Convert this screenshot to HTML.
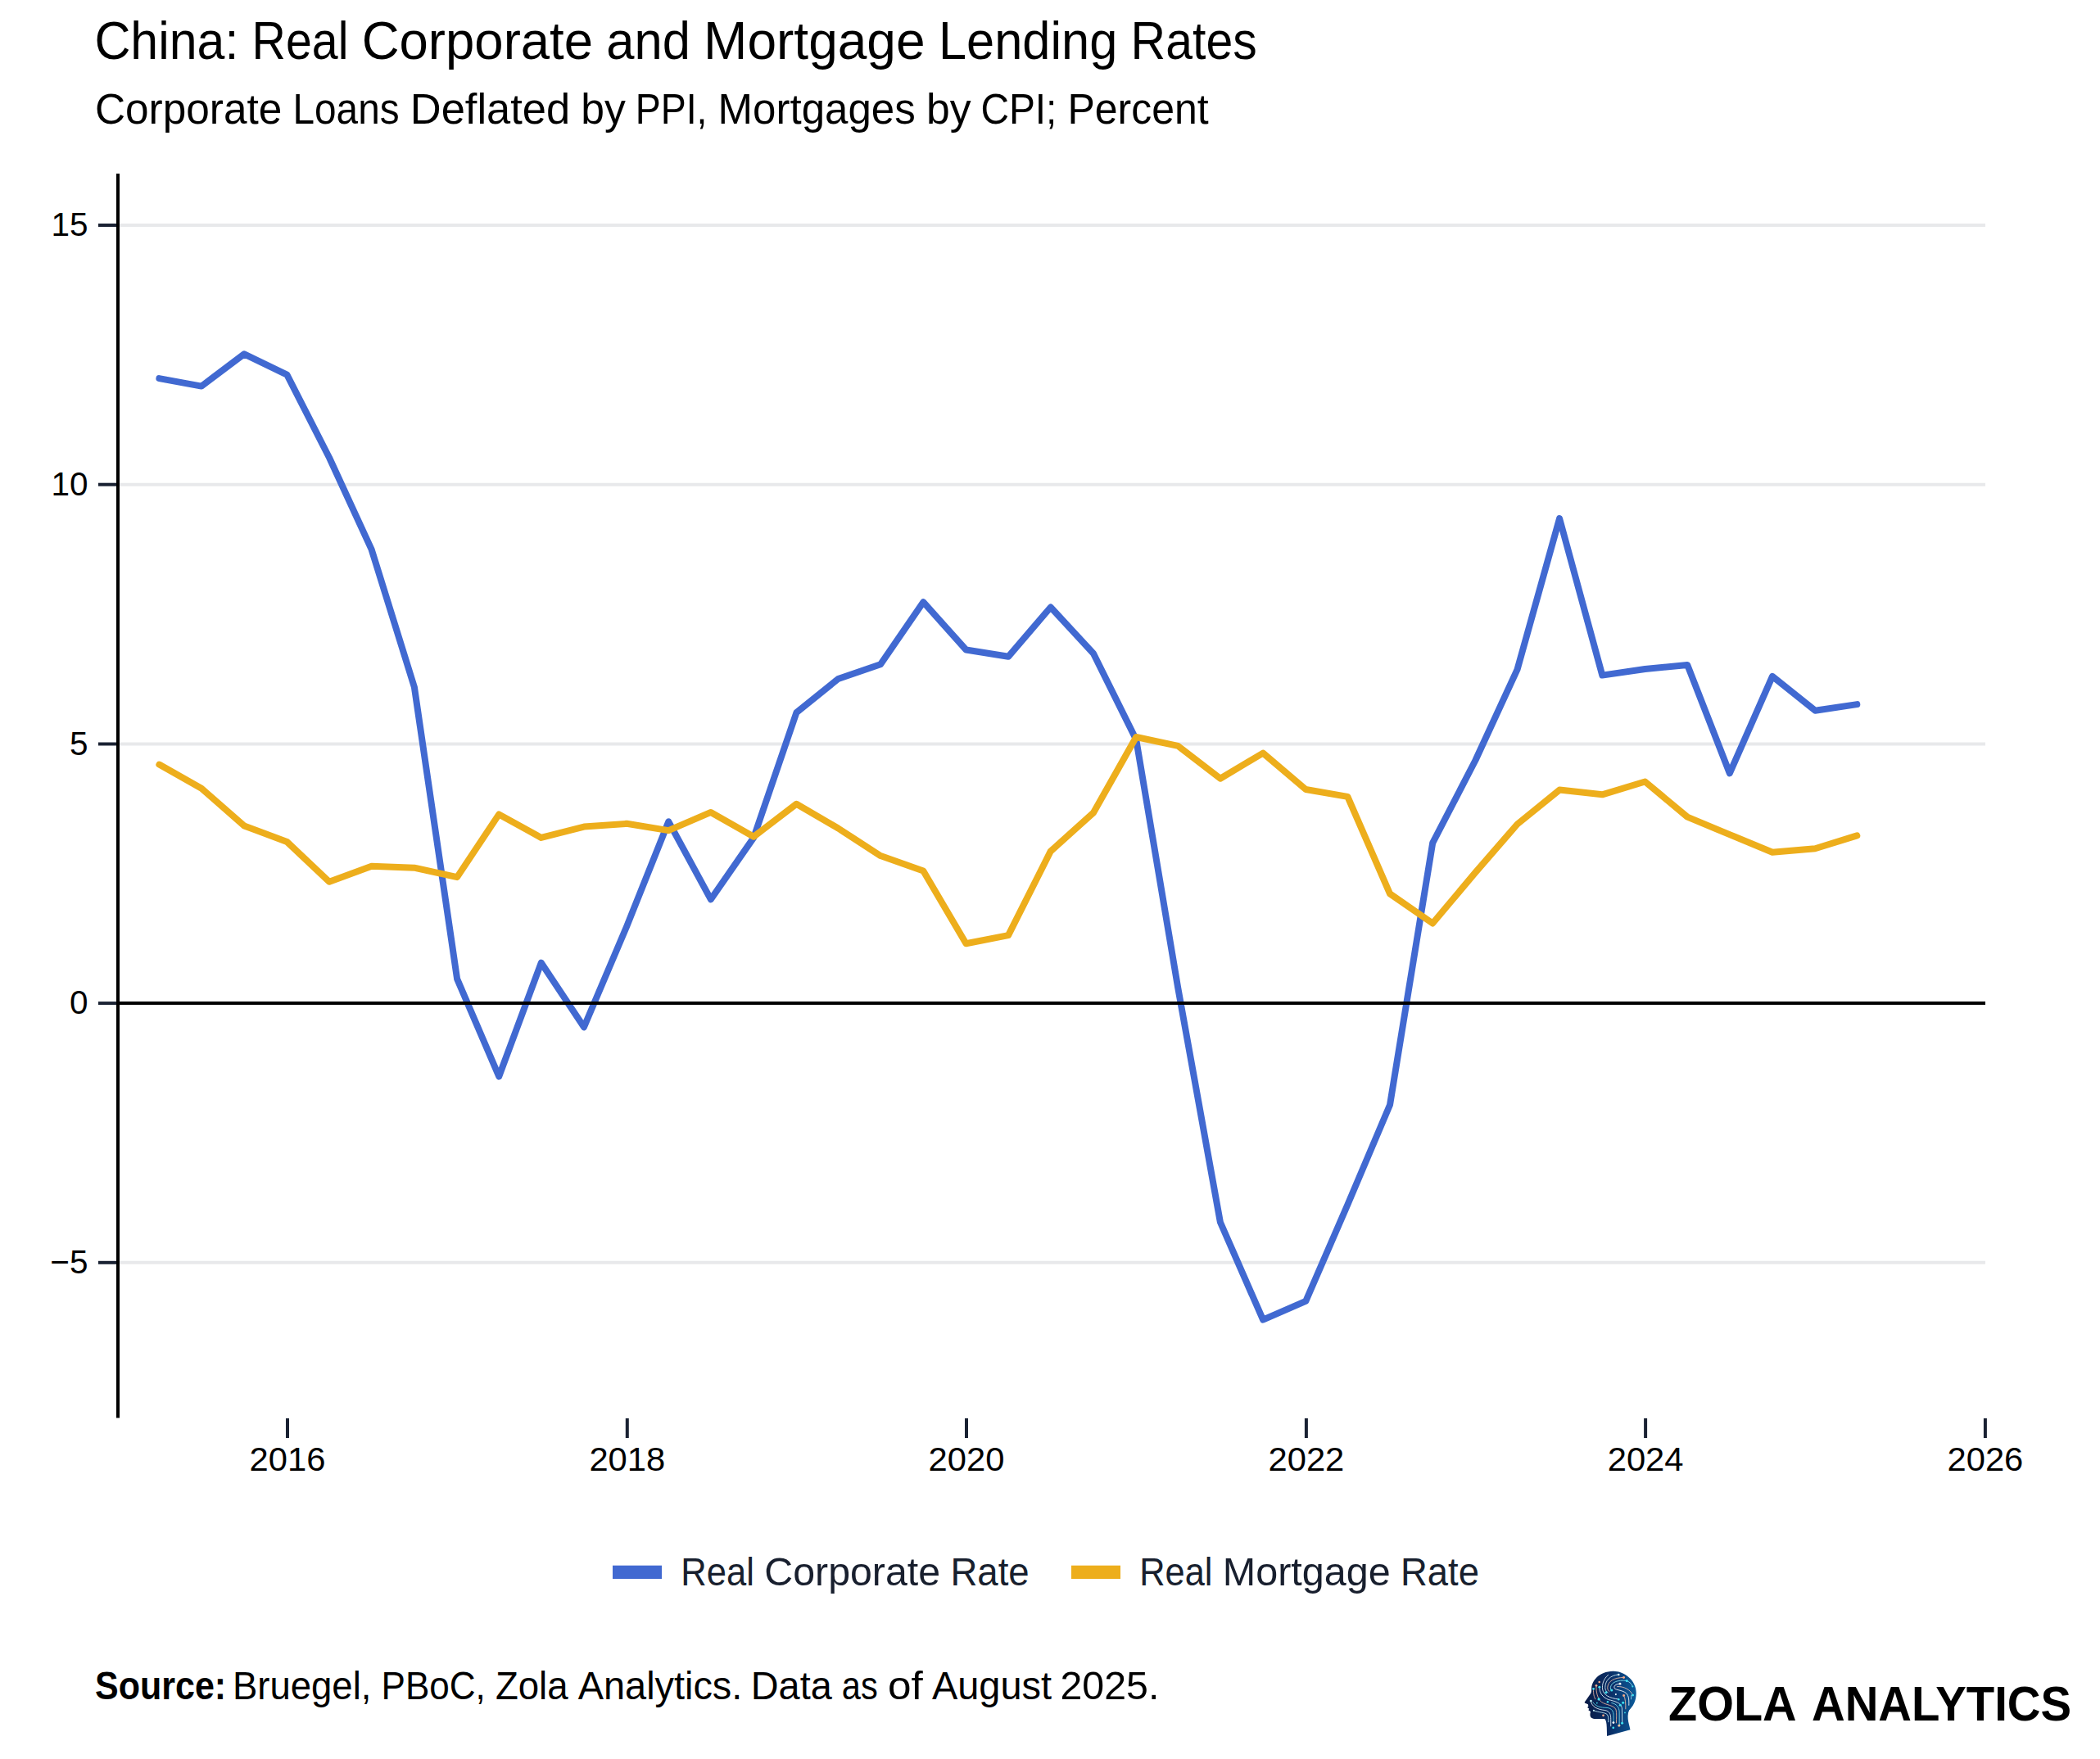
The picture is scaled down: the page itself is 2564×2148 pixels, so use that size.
<!DOCTYPE html>
<html lang="en"><head><meta charset="utf-8"><title>China: Real Corporate and Mortgage Lending Rates</title>
<style>html,body{margin:0;padding:0;background:#fff}body{width:2564px;height:2148px;overflow:hidden}svg{display:block}</style>
</head><body>
<svg width="2564" height="2148" viewBox="0 0 2564 2148" font-family="Liberation Sans, sans-serif">
<rect width="2564" height="2148" fill="#ffffff"/>
<text y="71.7" font-size="65" fill="#000" ><tspan x="115.4" textLength="176.0" lengthAdjust="spacingAndGlyphs">China:</tspan> <tspan x="307.6" textLength="117.8" lengthAdjust="spacingAndGlyphs">Real</tspan> <tspan x="441.7" textLength="282.4" lengthAdjust="spacingAndGlyphs">Corporate</tspan> <tspan x="740.3" textLength="102.6" lengthAdjust="spacingAndGlyphs">and</tspan> <tspan x="859.1" textLength="270.5" lengthAdjust="spacingAndGlyphs">Mortgage</tspan> <tspan x="1145.9" textLength="218.5" lengthAdjust="spacingAndGlyphs">Lending</tspan> <tspan x="1380.6" textLength="154.1" lengthAdjust="spacingAndGlyphs">Rates</tspan></text>
<text y="151" font-size="52.4" fill="#000" ><tspan x="115.9" textLength="228.5" lengthAdjust="spacingAndGlyphs">Corporate</tspan> <tspan x="357.5" textLength="130.1" lengthAdjust="spacingAndGlyphs">Loans</tspan> <tspan x="500.8" textLength="195.3" lengthAdjust="spacingAndGlyphs">Deflated</tspan> <tspan x="709.2" textLength="54.6" lengthAdjust="spacingAndGlyphs">by</tspan> <tspan x="775.7" textLength="87.8" lengthAdjust="spacingAndGlyphs">PPI,</tspan> <tspan x="876.6" textLength="241.1" lengthAdjust="spacingAndGlyphs">Mortgages</tspan> <tspan x="1130.9" textLength="54.6" lengthAdjust="spacingAndGlyphs">by</tspan> <tspan x="1197.4" textLength="93.0" lengthAdjust="spacingAndGlyphs">CPI;</tspan> <tspan x="1303.5" textLength="172.2" lengthAdjust="spacingAndGlyphs">Percent</tspan></text>
<line x1="146" x2="2424" y1="275.0" y2="275.0" stroke="#e8e9eb" stroke-width="4"/>
<line x1="146" x2="2424" y1="591.7" y2="591.7" stroke="#e8e9eb" stroke-width="4"/>
<line x1="146" x2="2424" y1="908.5" y2="908.5" stroke="#e8e9eb" stroke-width="4"/>
<line x1="146" x2="2424" y1="1541.8" y2="1541.8" stroke="#e8e9eb" stroke-width="4"/>
<polyline points="194.4,462.1 246.0,471.6 298.2,432.3 350.4,457.6 402.1,559.0 453.7,671.2 505.9,839.1 558.1,1195.3 609.2,1314.5 660.8,1175.7 713.0,1254.3 765.2,1131.3 816.3,1003.3 867.9,1098.3 920.2,1022.9 972.4,870.2 1023.4,829.0 1075.1,811.3 1127.3,735.2 1179.5,793.5 1231.1,801.8 1282.8,741.5 1335.0,798.0 1387.2,903.2 1438.2,1206.1 1489.9,1492.5 1542.1,1611.7 1594.3,1588.9 1645.4,1471.0 1697.0,1349.3 1749.2,1029.3 1801.4,928.5 1852.5,817.6 1904.1,633.2 1956.3,824.6 2008.5,817.0 2060.2,811.9 2111.8,944.3 2164.0,825.8 2216.2,867.7 2267.3,860.1" fill="none" stroke="#4169d1" stroke-width="8" stroke-linejoin="round" stroke-linecap="round"/>
<polyline points="194.4,933.6 246.0,962.7 298.2,1008.4 350.4,1028.0 402.1,1076.8 453.7,1057.8 505.9,1059.7 558.1,1071.1 609.2,994.4 660.8,1022.9 713.0,1009.6 765.2,1005.8 816.3,1014.1 867.9,991.9 920.2,1021.7 972.4,981.7 1023.4,1011.5 1075.1,1045.1 1127.3,1063.5 1179.5,1152.2 1231.1,1142.1 1282.8,1039.4 1335.0,992.5 1387.2,900.0 1438.2,910.8 1489.9,950.7 1542.1,919.6 1594.3,964.0 1645.4,972.9 1697.0,1091.4 1749.2,1127.5 1801.4,1065.4 1852.5,1006.5 1904.1,964.6 1956.3,970.3 2008.5,954.5 2060.2,997.6 2111.8,1019.1 2164.0,1040.7 2216.2,1036.2 2267.3,1020.4" fill="none" stroke="#edae1c" stroke-width="8" stroke-linejoin="round" stroke-linecap="round"/>
<line x1="144" x2="2424" y1="1225.1" y2="1225.1" stroke="#000" stroke-width="4"/>
<line x1="144" x2="144" y1="212" y2="1731.5" stroke="#000" stroke-width="4"/>
<line x1="120" x2="142" y1="275.0" y2="275.0" stroke="#1a2233" stroke-width="4"/>
<text x="107.5" y="288.2" text-anchor="end" font-size="40.5" fill="#000">15</text>
<line x1="120" x2="142" y1="591.7" y2="591.7" stroke="#1a2233" stroke-width="4"/>
<text x="107.5" y="604.9" text-anchor="end" font-size="40.5" fill="#000">10</text>
<line x1="120" x2="142" y1="908.5" y2="908.5" stroke="#1a2233" stroke-width="4"/>
<text x="107.5" y="921.7" text-anchor="end" font-size="40.5" fill="#000">5</text>
<line x1="120" x2="142" y1="1541.8" y2="1541.8" stroke="#1a2233" stroke-width="4"/>
<text x="107.5" y="1555.0" text-anchor="end" font-size="40.5" fill="#000">−5</text>
<line x1="120" x2="142" y1="1225.1" y2="1225.1" stroke="#1a2233" stroke-width="4"/>
<text x="107.5" y="1238.3" text-anchor="end" font-size="40.5" fill="#000">0</text>
<line x1="351.0" x2="351.0" y1="1732" y2="1756" stroke="#1a2233" stroke-width="4"/>
<text x="304.6" y="1796" font-size="40.5" textLength="92.8" lengthAdjust="spacingAndGlyphs" fill="#000">2016</text>
<line x1="765.8" x2="765.8" y1="1732" y2="1756" stroke="#1a2233" stroke-width="4"/>
<text x="719.4" y="1796" font-size="40.5" textLength="92.8" lengthAdjust="spacingAndGlyphs" fill="#000">2018</text>
<line x1="1180.0" x2="1180.0" y1="1732" y2="1756" stroke="#1a2233" stroke-width="4"/>
<text x="1133.6" y="1796" font-size="40.5" textLength="92.8" lengthAdjust="spacingAndGlyphs" fill="#000">2020</text>
<line x1="1594.9" x2="1594.9" y1="1732" y2="1756" stroke="#1a2233" stroke-width="4"/>
<text x="1548.5" y="1796" font-size="40.5" textLength="92.8" lengthAdjust="spacingAndGlyphs" fill="#000">2022</text>
<line x1="2009.1" x2="2009.1" y1="1732" y2="1756" stroke="#1a2233" stroke-width="4"/>
<text x="1962.7" y="1796" font-size="40.5" textLength="92.8" lengthAdjust="spacingAndGlyphs" fill="#000">2024</text>
<line x1="2423.9" x2="2423.9" y1="1732" y2="1756" stroke="#1a2233" stroke-width="4"/>
<text x="2377.5" y="1796" font-size="40.5" textLength="92.8" lengthAdjust="spacingAndGlyphs" fill="#000">2026</text>
<rect x="748" y="1911.7" width="60" height="16.3" fill="#4169d1"/>
<text y="1935.7" font-size="49" fill="#181f2e" ><tspan x="831.3" textLength="89.6" lengthAdjust="spacingAndGlyphs">Real</tspan> <tspan x="933.3" textLength="214.8" lengthAdjust="spacingAndGlyphs">Corporate</tspan> <tspan x="1160.4" textLength="96.3" lengthAdjust="spacingAndGlyphs">Rate</tspan></text>
<rect x="1308" y="1911.7" width="60" height="16.3" fill="#edae1c"/>
<text y="1935.7" font-size="49" fill="#181f2e" ><tspan x="1391.3" textLength="89.2" lengthAdjust="spacingAndGlyphs">Real</tspan> <tspan x="1492.8" textLength="204.9" lengthAdjust="spacingAndGlyphs">Mortgage</tspan> <tspan x="1710.0" textLength="95.9" lengthAdjust="spacingAndGlyphs">Rate</tspan></text>
<text y="2075.3" font-size="48.5" fill="#000" font-weight="bold" ><tspan x="116.1" textLength="160.1" lengthAdjust="spacingAndGlyphs">Source:</tspan></text>
<text y="2075.3" font-size="48.2" fill="#000" ><tspan x="283.9" textLength="169.5" lengthAdjust="spacingAndGlyphs">Bruegel,</tspan> <tspan x="465.5" textLength="127.3" lengthAdjust="spacingAndGlyphs">PBoC,</tspan> <tspan x="604.9" textLength="88.7" lengthAdjust="spacingAndGlyphs">Zola</tspan> <tspan x="705.8" textLength="200.5" lengthAdjust="spacingAndGlyphs">Analytics.</tspan> <tspan x="916.8" textLength="98.9" lengthAdjust="spacingAndGlyphs">Data</tspan> <tspan x="1027.8" textLength="43.9" lengthAdjust="spacingAndGlyphs">as</tspan> <tspan x="1083.9" textLength="42.8" lengthAdjust="spacingAndGlyphs">of</tspan> <tspan x="1137.9" textLength="146.1" lengthAdjust="spacingAndGlyphs">August</tspan> <tspan x="1294.5" textLength="120.8" lengthAdjust="spacingAndGlyphs">2025.</tspan></text>
<text y="2101.1" font-size="58.8" font-weight="bold" fill="#000"><tspan x="2037" textLength="154.5" lengthAdjust="spacingAndGlyphs">ZOLA</tspan> <tspan x="2212" textLength="317" lengthAdjust="spacingAndGlyphs">ANALYTICS</tspan></text>
<defs><linearGradient id="hg" x1="0" y1="0" x2="1" y2="0"><stop offset="0" stop-color="#091a45"/><stop offset="0.5" stop-color="#0a2e66"/><stop offset="1" stop-color="#0c5c9b"/></linearGradient></defs>
<g transform="translate(1920,2030) scale(0.05685)">
<path fill="url(#hg)" d="M870,190 C1100,185 1370,380 1368,660 C1366,850 1290,950 1215,1030 C1180,1100 1185,1200 1200,1280 L1240,1445 L740,1582 L735,1400 C732,1300 720,1240 690,1215 L470,1212 C400,1210 372,1170 378,1110 C380,1080 388,1070 385,1055 L340,1025 L358,1000 L318,968 L340,940 L332,900 L262,872 C255,860 262,850 270,840 L390,670 C410,640 405,600 408,560 C415,400 560,200 870,190 Z"/>
<g fill="none" stroke-width="16" stroke-linecap="round" opacity="0.95">
<path stroke="#e8f4fb" d="M765,270 C660,360 630,480 645,580 C665,700 790,770 990,792"/>
<path stroke="#cfeaf5" d="M990,262 C800,275 700,400 700,540 C700,600 730,630 760,650"/>
<path stroke="#f0b9a0" d="M1100,325 C900,325 760,400 752,540 C750,590 770,610 792,625"/>
<path stroke="#7fe3f2" d="M1165,395 C960,370 830,430 815,540 C812,575 825,590 840,598"/>
<path stroke="#ffffff" d="M1020,460 C920,465 880,510 900,555 C930,600 1060,590 1150,660 C1215,720 1212,820 1210,920"/>
<path stroke="#e6c3b8" d="M960,520 C1100,510 1250,590 1292,700"/>
<path stroke="#9fe9f5" d="M1165,395 C1240,430 1275,470 1290,520"/>
<path stroke="#dff1f8" d="M578,530 C575,650 640,750 770,800 C900,835 1040,860 1062,980 L1068,1300"/>
<path stroke="#eeb39b" d="M510,500 C500,640 540,780 620,850 C720,920 900,920 935,1020 C950,1090 942,1200 940,1300"/>
<path stroke="#e9b7a4" d="M450,575 C445,680 460,740 490,790"/>
<path stroke="#66dff0" d="M440,860 C500,950 600,972 740,975 C850,985 880,1060 880,1140 L880,1290"/>
<path stroke="#eaf6fb" d="M395,830 C410,950 520,1010 700,1030 C800,1050 822,1120 822,1220 L822,1370"/>
<path stroke="#bfeaf4" d="M455,1035 C560,1078 690,1070 745,1120 C775,1160 770,1220 770,1280"/>
<path stroke="#7fe3f2" d="M840,870 C940,890 1000,960 1005,1060 L1005,1360"/>
<path stroke="#f0b9a0" d="M1100,712 C1140,790 1142,880 1140,1000"/>
<path stroke="#a8d5ea" d="M1262,705 L1258,790"/>
</g>
<g>
<circle cx="990" cy="262" r="22" fill="#d9f3f7"/><circle cx="1100" cy="325" r="26" fill="#f4a988"/><circle cx="1165" cy="395" r="27" fill="#3fe0f0"/>
<circle cx="1020" cy="460" r="25" fill="#ffffff"/><circle cx="1290" cy="520" r="18" fill="#3fe0f0"/><circle cx="1295" cy="705" r="25" fill="#3fe0f0"/>
<circle cx="575" cy="420" r="22" fill="#f4a988"/><circle cx="510" cy="498" r="24" fill="#f4a988"/><circle cx="578" cy="530" r="26" fill="#3fe0f0"/>
<circle cx="450" cy="568" r="24" fill="#3fe0f0"/><circle cx="840" cy="598" r="27" fill="#3fe0f0"/><circle cx="720" cy="648" r="27" fill="#3fe0f0"/>
<circle cx="930" cy="688" r="18" fill="#f2f8fb"/><circle cx="1100" cy="712" r="26" fill="#f4a988"/><circle cx="565" cy="790" r="28" fill="#3fe0f0"/>
<circle cx="990" cy="795" r="22" fill="#3fe0f0"/><circle cx="395" cy="828" r="24" fill="#bdeef5"/><circle cx="755" cy="850" r="22" fill="#3fe0f0"/>
<circle cx="1085" cy="865" r="27" fill="#3fe0f0"/><circle cx="525" cy="872" r="16" fill="#3fe0f0"/><circle cx="1025" cy="920" r="26" fill="#3fe0f0"/>
<circle cx="455" cy="1035" r="18" fill="#c9f0f6"/><circle cx="1125" cy="1080" r="15" fill="#3fe0f0"/><circle cx="660" cy="1140" r="24" fill="#f4a988"/>
<circle cx="878" cy="1295" r="25" fill="#ffffff"/><circle cx="1065" cy="1305" r="26" fill="#3fe0f0"/><circle cx="1000" cy="1360" r="26" fill="#f7c9a0"/>
<circle cx="875" cy="1405" r="24" fill="#3fe0f0"/>
</g>
</g>

</svg>
</body></html>
